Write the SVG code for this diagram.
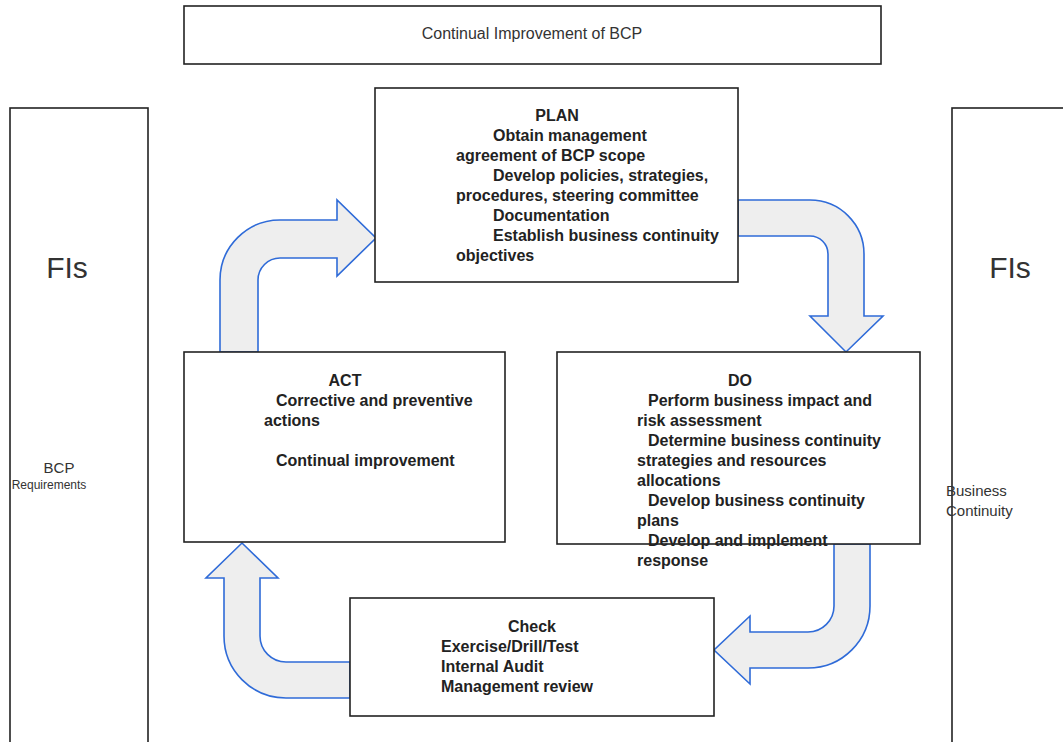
<svg xmlns="http://www.w3.org/2000/svg" width="1063" height="742" viewBox="0 0 1063 742">
<style>
.box{fill:#fff;stroke:#222;stroke-width:1.6}
.arr{fill:#eeeeee;stroke:#2f6bd8;stroke-width:1.6;stroke-linejoin:miter}
.t{font-family:"Liberation Sans",Arial,sans-serif;font-size:16px;font-weight:bold;fill:#222}
.c{text-anchor:middle}
.g{font-family:"Liberation Sans",Arial,sans-serif;fill:#333}
</style>
<rect width="1063" height="742" fill="#fff"/>
<g id="title">
<rect class="box" x="184" y="6" width="697" height="58"/>
<text class="g" x="532" y="39" font-size="16" text-anchor="middle">Continual Improvement of BCP</text>
</g>
<g id="left-fis">
<rect class="box" x="10" y="108" width="138" height="700"/>
<text class="g" x="67" y="278" font-size="30" text-anchor="middle" fill="#222">FIs</text>
<text class="g" x="59" y="473" font-size="15" text-anchor="middle">BCP</text>
<text class="g" x="49" y="489" font-size="12" text-anchor="middle">Requirements</text>
</g>
<g id="right-fis">
<rect class="box" x="952" y="108" width="138" height="700"/>
<text class="g" x="1010" y="278" font-size="30" text-anchor="middle" fill="#222">FIs</text>
<text class="g" x="946" y="496" font-size="15">Business</text>
<text class="g" x="946" y="516" font-size="15">Continuity</text>
</g>
<g id="connectors">
<path class="arr" d="M220,352 L220,280 A60,60 0 0 1 280,220 L337,220 L337,200 L376,238 L337,276 L337,258 L280,258 A22,22 0 0 0 258,280 L258,352 Z"/>
<path class="arr" d="M738,200 L810,200 A54,54 0 0 1 864,254 L864,316 L883,316 L846,352 L810,316 L828,316 L828,254 A18,18 0 0 0 810,236 L738,236 Z"/>
<path class="arr" d="M834,544 L834,606 A26,26 0 0 1 808,632 L750,632 L750,616 L714,650 L750,684 L750,668 L808,668 A62,62 0 0 0 870,606 L870,544 Z"/>
<path class="arr" d="M350,662 L286,662 A26,26 0 0 1 260,636 L260,578 L278,578 L242,543 L206,578 L224,578 L224,636 A62,62 0 0 0 286,698 L350,698 Z"/>
</g>
<g id="plan">
<rect class="box" x="375" y="88" width="363" height="194"/>
<text class="t c" x="557" y="121">PLAN</text>
<text class="t" x="493" y="141">Obtain management</text>
<text class="t" x="456" y="161">agreement of BCP scope</text>
<text class="t" x="493" y="181">Develop policies, strategies,</text>
<text class="t" x="456" y="201">procedures, steering committee</text>
<text class="t" x="493" y="221">Documentation</text>
<text class="t" x="493" y="241">Establish business continuity</text>
<text class="t" x="456" y="261">objectives</text>
</g>
<g id="act">
<rect class="box" x="184" y="352" width="321" height="190"/>
<text class="t c" x="345" y="386">ACT</text>
<text class="t" x="276" y="406">Corrective and preventive</text>
<text class="t" x="264" y="426">actions</text>
<text class="t" x="276" y="466">Continual improvement</text>
</g>
<g id="do">
<rect class="box" x="557" y="352" width="363" height="192"/>
<text class="t c" x="740" y="386">DO</text>
<text class="t" x="648" y="406">Perform business impact and</text>
<text class="t" x="637" y="426">risk assessment</text>
<text class="t" x="648" y="446">Determine business continuity</text>
<text class="t" x="637" y="466">strategies and resources</text>
<text class="t" x="637" y="486">allocations</text>
<text class="t" x="648" y="506">Develop business continuity</text>
<text class="t" x="637" y="526">plans</text>
<text class="t" x="648" y="546">Develop and implement</text>
<text class="t" x="637" y="566">response</text>
</g>
<g id="check">
<rect class="box" x="350" y="598" width="364" height="118"/>
<text class="t c" x="532" y="632">Check</text>
<text class="t" x="441" y="652">Exercise/Drill/Test</text>
<text class="t" x="441" y="672">Internal Audit</text>
<text class="t" x="441" y="692">Management review</text>
</g>
</svg>
